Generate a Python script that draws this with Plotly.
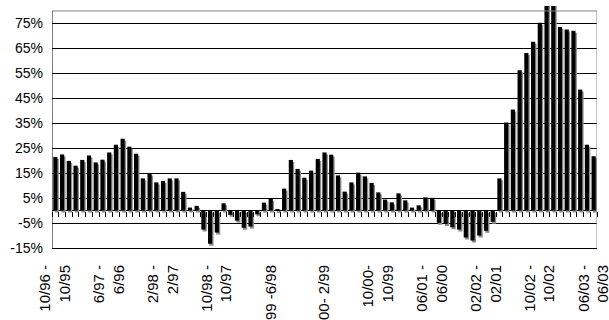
import plotly.graph_objects as go

# ---- data -------------------------------------------------------------
months = []
m, y = 10, 96
for _ in range(81):
    months.append(f"{m}/{y % 100:02d}")
    m += 1
    if m > 12:
        m, y = 1, y + 1

values = [21.5, 22.5, 19.9, 18.0, 20.3, 22.1, 19.3, 20.4, 23.3, 26.4,
          28.8, 25.6, 22.8, 12.9, 14.8, 11.3, 11.9, 12.9, 12.9, 7.5,
          1.2, 1.9, -7.6, -13.3, -8.8, 2.9, -1.7, -4.0, -6.9, -6.4,
          -1.5, 3.2, 4.7, 0.4, 8.8, 20.3, 16.7, 13.2, 16.0, 20.7,
          23.3, 22.4, 14.1, 7.6, 11.3, 15.2, 13.7, 11.1, 7.3, 4.4,
          3.3, 6.9, 4.1, 1.2, 2.1, 5.3, 5.1, -4.9, -5.4, -6.7,
          -7.6, -10.8, -12.0, -10.0, -8.1, -4.5, 12.9, 35.3, 40.5, 56.2,
          63.2, 67.7, 75.3, 83.0, 83.0, 73.6, 72.6, 72.1, 48.5, 26.4,
          21.8]

tick_index = [0, 8, 16, 24, 32, 40, 48, 56, 64, 72, 80]
tick_labels = ["10/96 -<br>10/95", "6/97 -<br>6/96", "2/98 -<br>2/97",
               "10/98 -<br>10/97", "6/99 -6/98", "2/00- 2/99",
               "10/00-<br>10/99", "06/01 -<br>06/00", "02/02 -<br>02/01",
               "10/02 -<br>10/02", "06/03 -<br>06/03"]
y_ticks = [-15, -5, 5, 15, 25, 35, 45, 55, 65, 75]
y_labels = [f"{v}%" for v in y_ticks]

# ---- figure -----------------------------------------------------------
x = list(range(len(values)))
n = len(values)
y_lo, y_hi, frame_top = -15, 82, 80
bw = 0.62
font = dict(family="Liberation Sans, Arial, sans-serif", size=14, color="black")
xfont = dict(family="Liberation Sans, Arial, sans-serif", size=15, color="black")

fig = go.Figure()
# shadow
fig.add_trace(go.Bar(x=x, y=values, base=-0.8, width=bw, offset=-bw / 2 + 0.2,
                     marker=dict(color="#8c8c8c", line=dict(width=0)),
                     hoverinfo="skip", showlegend=False))
# bars
fig.add_trace(go.Bar(x=x, y=values, width=bw, offset=-bw / 2,
                     customdata=months,
                     hovertemplate="%{customdata}: %{y}%<extra></extra>",
                     marker=dict(color="black", line=dict(width=0)),
                     showlegend=False))
# dummy for the zero-crossing tick axis
fig.add_trace(go.Scatter(x=[None], y=[None], xaxis="x2", showlegend=False,
                         hoverinfo="skip"))

fig.update_layout(
    width=609, height=320,
    margin=dict(l=52, r=12, t=6, b=72),
    paper_bgcolor="white", plot_bgcolor="white",
    barmode="overlay",
    font=font,
    xaxis=dict(range=[-0.5, n - 0.5], tickmode="array", tickvals=tick_index,
               ticktext=tick_labels, tickangle=-90, ticks="", showgrid=False,
               zeroline=False, showline=True, linecolor="black", linewidth=1,
               ticklabelstandoff=10, tickfont=xfont, fixedrange=True,
               automargin=False, ticklabeloverflow="allow"),
    xaxis2=dict(range=[-0.5, n - 0.5], overlaying="x", anchor="free",
                position=(0 - y_lo) / (y_hi - y_lo), side="bottom",
                tickmode="linear", tick0=-0.5, dtick=1, ticks="outside",
                ticklen=5, tickwidth=1, tickcolor="black",
                showticklabels=False, showgrid=False, zeroline=False,
                showline=False, automargin=False),
    yaxis=dict(range=[y_lo, y_hi], tickmode="array", tickvals=y_ticks,
               ticktext=y_labels, ticks="", showgrid=True, gridcolor="black",
               gridwidth=1, zeroline=True, zerolinecolor="black",
               zerolinewidth=1, showline=False, ticklabelstandoff=8,
               tickfont=font, fixedrange=True, automargin=False),
    shapes=[
        dict(type="line", xref="x", yref="y", x0=-0.5, x1=n - 0.5,
             y0=frame_top, y1=frame_top, line=dict(color="#808080", width=1)),
        dict(type="line", xref="x", yref="y", x0=n - 0.5, x1=n - 0.5,
             y0=y_lo, y1=frame_top, line=dict(color="#808080", width=1)),
        dict(type="line", xref="x", yref="y", x0=-0.5, x1=-0.5,
             y0=y_lo, y1=frame_top, line=dict(color="black", width=1)),
    ],
)

fig.write_html("out.html", config={"displayModeBar": False},
               post_script="document.body.style.margin='0';"
                           "document.body.style.overflow='hidden';")
